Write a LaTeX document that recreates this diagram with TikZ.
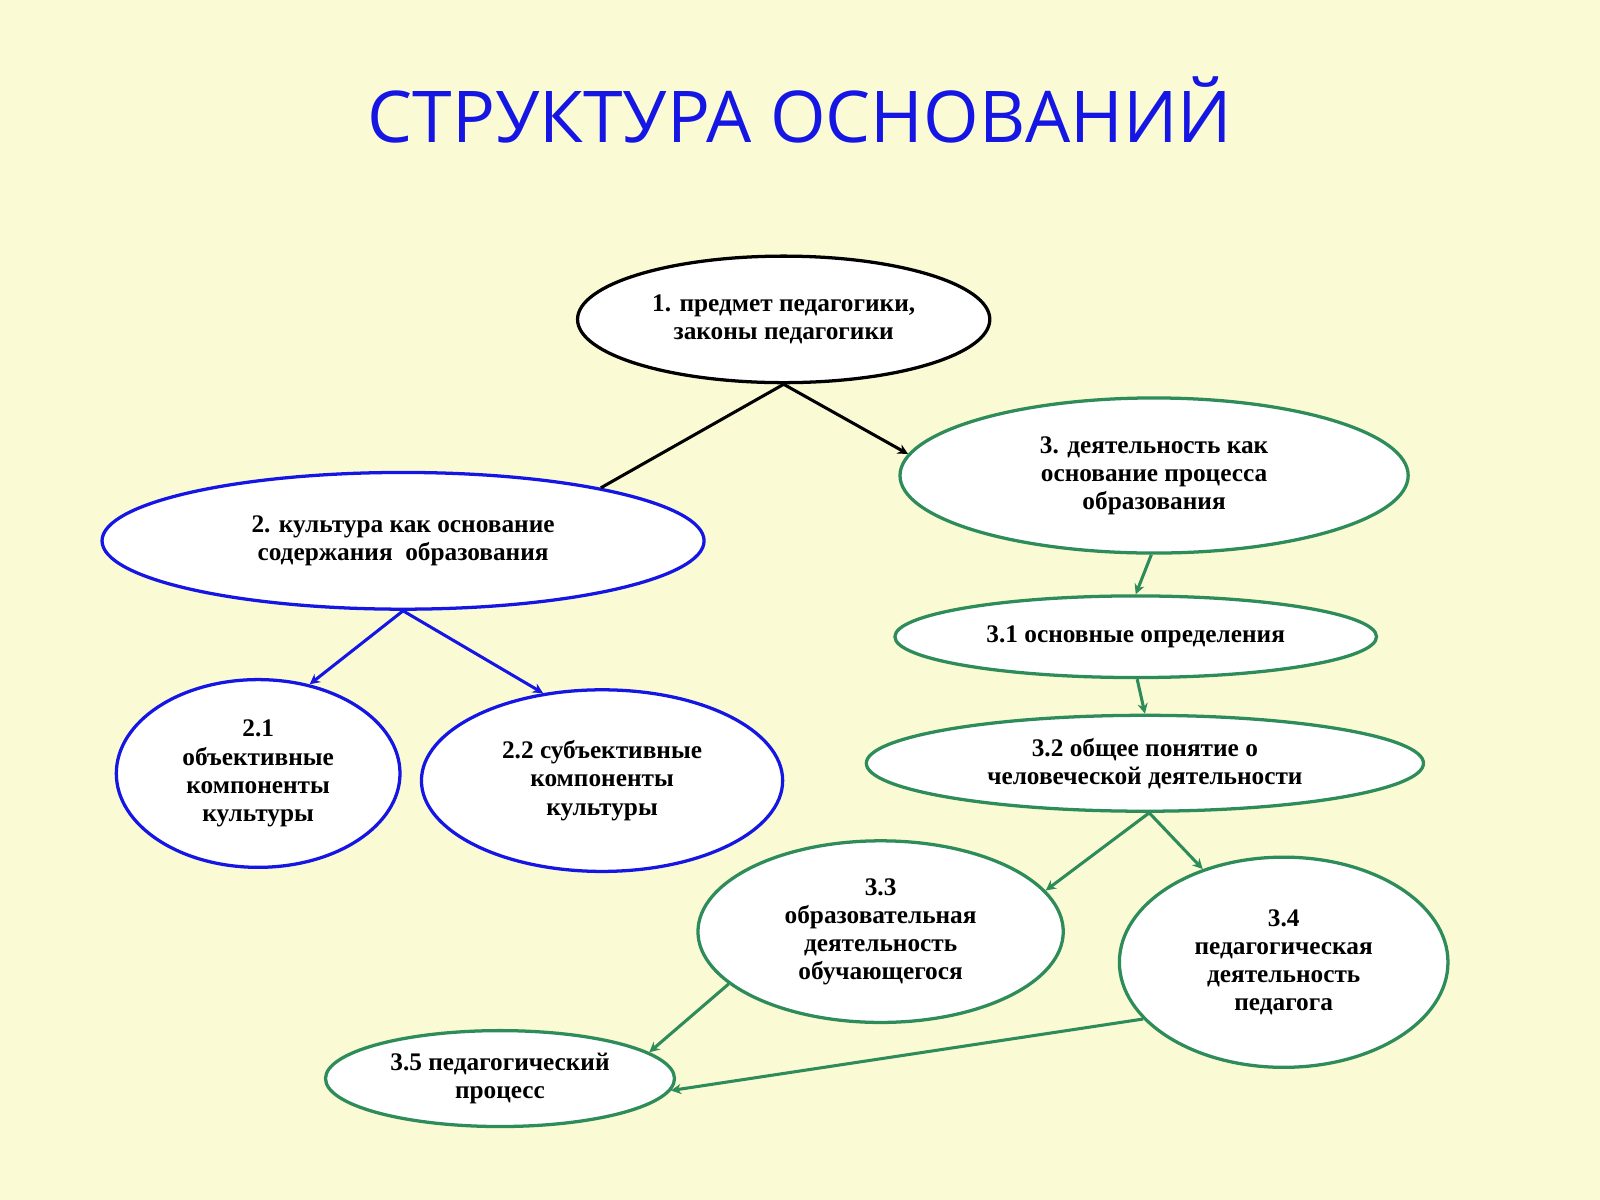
\documentclass[tikz,border=0pt]{standalone}
\usepackage{fontspec}
\setmainfont{Liberation Serif}
\newfontfamily\titlefont{Open Sans}
\usetikzlibrary{shapes.geometric,arrows.meta}
\definecolor{bgyel}{RGB}{250,250,212}
\definecolor{grn}{RGB}{46,139,90}
\definecolor{blu}{RGB}{22,22,228}
\begin{document}
\begin{tikzpicture}[x=0.5pt,y=-0.5pt]
\tikzstyle{oval}=[ellipse, draw, line width=1.6pt, fill=white, inner sep=0pt, align=center, font=\bfseries\fontsize{12.4}{13.8}\selectfont]
\tikzstyle{bl}=[oval, draw=blu]
\tikzstyle{gr}=[oval, draw=grn]
\tikzstyle{connect}=[-{Stealth[length=5pt,width=5pt]}, line width=1.5pt]

  \fill[bgyel] (0,0) rectangle (1568,1176);
  \useasboundingbox (0,0) rectangle (1568,1176);

  \node[text=blu, font=\titlefont\fontsize{35}{40}\selectfont] (title) at (784,108) {СТРУКТУРА ОСНОВАНИЙ};

  \node[oval, draw=black, minimum width=202pt, minimum height=62pt] (n1) at (768,313) {1. предмет педагогики,\\законы педагогики};
  \node[bl, minimum width=295pt, minimum height=67pt] (n2) at (395,530) {2. культура как основание\\содержания \ образования};
  \node[gr, minimum width=249pt, minimum height=76pt] (n3) at (1131,466) {3. деятельность как\\основание процесса\\образования};
  \node[bl, minimum width=139pt, minimum height=92pt] (n21) at (253,758) {2.1\\объективные\\компоненты\\культуры};
  \node[bl, minimum width=177pt, minimum height=89pt] (n22) at (590,765) {2.2 субъективные\\компоненты\\культуры};
  \node[gr, minimum width=236pt, minimum height=40pt] (n31) at (1113,624) {3.1 основные определения};
  \node[gr, minimum width=273pt, minimum height=47pt] (n32) at (1122,748) {3.2 общее понятие о\\человеческой деятельности};
  \node[gr, minimum width=179pt, minimum height=89pt] (n33) at (863,913) {3.3\\образовательная\\деятельность\\обучающегося};
  \node[gr, minimum width=161pt, minimum height=103pt] (n34) at (1258,943) {3.4\\педагогическая\\деятельность\\педагога};
  \node[gr, minimum width=171pt, minimum height=47pt] (n35) at (490,1057) {3.5 педагогический\\процесс};

  \draw[line width=1.5pt] (n1.south) -- (n2.15);
  \draw[connect] (n1.south) -- (n3.175);
  \draw[connect, blu] (n2.south) -- (n21.60);
  \draw[connect, blu] (n2.south) -- (n22.124);
  \draw[connect, grn] (n3.268) -- (n31.north);
  \draw[connect, grn] (n31.272) -- (n32.north);
  \draw[connect, grn] (n32.275) -- (n33.14);
  \draw[connect, grn] (n32.275) -- (n34.131);
  \draw[connect, grn] (n33.199) -- (n35.10);
  \draw[connect, grn] (n34.202) -- (n35.356);
\end{tikzpicture}
\end{document}
